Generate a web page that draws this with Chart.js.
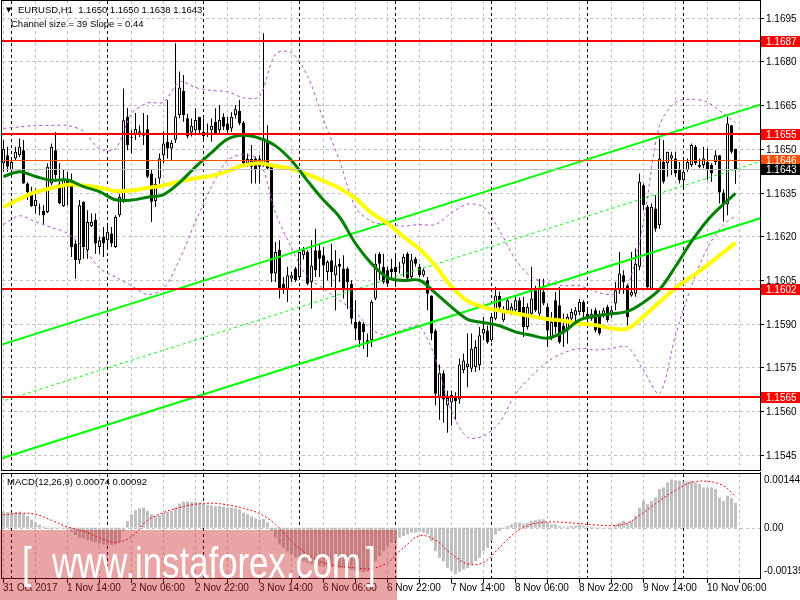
<!DOCTYPE html>
<html>
<head>
<meta charset="utf-8">
<script src="https://cdn.jsdelivr.net/npm/chart.js"></script>
<style>
  html, body { margin: 0; padding: 0; background: #fff; }
  #wrap { position: relative; width: 800px; height: 600px; overflow: hidden; background: #fff; }
  canvas { position: absolute; left: 0; }
  #main { top: 0; }
  #macd { top: 472px; }
</style>
</head>
<body>
<div id="wrap">
  <canvas id="main" width="800" height="472"></canvas>
  <canvas id="macd" width="800" height="128"></canvas>
</div>
<script>
// EURUSD H1 candles, 31 Oct 22:00 .. 10 Nov 13:00
const candleOpen = [
  1.1645, 1.16478, 1.16426, 1.16467, 1.16478, 1.16495, 1.16381, 1.16346, 1.16303, 1.16295,
  1.16287, 1.16283, 1.16381, 1.16495, 1.16381, 1.16303, 1.16392, 1.16381, 1.16175, 1.16118,
  1.16318, 1.16152, 1.16234, 1.16257, 1.16163, 1.16198, 1.16186, 1.16209, 1.16163, 1.16272,
  1.16324, 1.1661, 1.16536, 1.16547, 1.16555, 1.16545, 1.16567, 1.16415, 1.1632, 1.16398,
  1.16478, 1.16524, 1.16501, 1.16531, 1.16616, 1.16698, 1.16605, 1.16556, 1.16564, 1.16609,
  1.16558, 1.16552, 1.16564, 1.16593, 1.16564, 1.1661, 1.16587, 1.1657, 1.16616, 1.1663,
  1.1659, 1.1645, 1.16465, 1.16467, 1.16467, 1.16444, 1.16524, 1.16444, 1.16072, 1.16154,
  1.16037, 1.1602, 1.16055, 1.16089, 1.1606, 1.16135, 1.16146, 1.16043, 1.16152, 1.16152,
  1.16135, 1.16077, 1.16118, 1.16066, 1.16106, 1.16089, 1.16089, 1.16037, 1.15906, 1.15906,
  1.159, 1.15843, 1.15843, 1.15986, 1.1614, 1.16095, 1.16083, 1.16089, 1.16095, 1.16095,
  1.16106, 1.1614, 1.1606, 1.16123, 1.16095, 1.16066, 1.16049, 1.15997, 1.15877, 1.1565,
  1.1573, 1.1562, 1.1563, 1.1565, 1.1564, 1.1574, 1.15751, 1.15745, 1.15751, 1.15757,
  1.15866, 1.15877, 1.15843, 1.15917, 1.15995, 1.15912, 1.15946, 1.15934, 1.15946, 1.1598,
  1.15957, 1.15889, 1.15934, 1.16015, 1.15934, 1.16009, 1.15957, 1.15854, 1.1598, 1.15963,
  1.15894, 1.15877, 1.15917, 1.15929, 1.1594, 1.15975, 1.15934, 1.15917, 1.15946, 1.15934,
  1.15929, 1.15957, 1.15929, 1.15969, 1.16015, 1.16066, 1.16032, 1.15997, 1.16003, 1.16095,
  1.16375, 1.16301, 1.1602, 1.16295, 1.16238, 1.16455, 1.1645, 1.16467, 1.16467, 1.16427,
  1.16393, 1.16427, 1.16444, 1.16507, 1.16438, 1.16444, 1.16455, 1.16444, 1.16455, 1.16478,
  1.1635, 1.1631, 1.16581, 1.165
];
const candleHigh = [
  1.1653, 1.16507, 1.16467, 1.16507, 1.16535, 1.1653, 1.16385, 1.1637, 1.16364, 1.16312,
  1.16306, 1.1645, 1.16518, 1.16558, 1.1645, 1.16427, 1.1642, 1.16415, 1.16186, 1.16324,
  1.1632, 1.16289, 1.16278, 1.16278, 1.16198, 1.16232, 1.16243, 1.16232, 1.16272, 1.16346,
  1.16707, 1.1664, 1.16564, 1.16623, 1.1658, 1.16623, 1.16616, 1.16427, 1.164, 1.16484,
  1.1656, 1.16667, 1.1653, 1.16862, 1.16765, 1.16753, 1.1662, 1.16604, 1.16639, 1.1661,
  1.16604, 1.16587, 1.16604, 1.16639, 1.1665, 1.16622, 1.1661, 1.16625, 1.1665, 1.16667,
  1.16595, 1.16484, 1.16513, 1.16473, 1.16478, 1.16896, 1.16581, 1.1645, 1.1618, 1.16186,
  1.1606, 1.16095, 1.16077, 1.16095, 1.16146, 1.16163, 1.16152, 1.16186, 1.16226, 1.16175,
  1.16163, 1.16118, 1.16175, 1.16152, 1.16123, 1.16135, 1.16095, 1.16049, 1.1598, 1.1591,
  1.15906, 1.15866, 1.1598, 1.1614, 1.16146, 1.1614, 1.16095, 1.16123, 1.1614, 1.16112,
  1.1614, 1.16146, 1.1614, 1.16129, 1.16106, 1.1609, 1.1606, 1.15997, 1.15883, 1.1576,
  1.1574, 1.1567, 1.1567, 1.15665, 1.1578, 1.15797, 1.15866, 1.15866, 1.15843, 1.15889,
  1.15923, 1.15894, 1.15934, 1.16026, 1.1601, 1.1596, 1.1599, 1.1597, 1.15995, 1.1599,
  1.15992, 1.1597, 1.16095, 1.1603, 1.16054, 1.16054, 1.15969, 1.1594, 1.16009, 1.16026,
  1.15934, 1.15934, 1.15952, 1.15957, 1.15985, 1.1598, 1.15952, 1.1595, 1.15955, 1.15945,
  1.15955, 1.15965, 1.1596, 1.16043, 1.16146, 1.16083, 1.16037, 1.16146, 1.16158, 1.16415,
  1.16381, 1.16307, 1.16312, 1.16341, 1.16536, 1.1653, 1.1649, 1.1649, 1.1649, 1.16455,
  1.16461, 1.16467, 1.16518, 1.16513, 1.16467, 1.16507, 1.16501, 1.1645, 1.16495, 1.16478,
  1.1636, 1.1661, 1.16581, 1.165
];
const candleLow = [
  1.1642, 1.16421, 1.16421, 1.16461, 1.16472, 1.1638, 1.16324, 1.163, 1.16278, 1.16272,
  1.16243, 1.1628, 1.16375, 1.16386, 1.1631, 1.163, 1.16306, 1.16129, 1.16054, 1.16106,
  1.16123, 1.16123, 1.16232, 1.1614, 1.1614, 1.16129, 1.16163, 1.16163, 1.1616, 1.16266,
  1.16315, 1.16495, 1.16484, 1.1653, 1.1654, 1.16513, 1.164, 1.16249, 1.163, 1.1638,
  1.1645, 1.16467, 1.1646, 1.1652, 1.16605, 1.16593, 1.16536, 1.16542, 1.16553, 1.1655,
  1.16524, 1.1654, 1.16524, 1.16548, 1.16553, 1.16564, 1.16553, 1.16558, 1.16604, 1.16581,
  1.16444, 1.16438, 1.16381, 1.16381, 1.16381, 1.16438, 1.16427, 1.16043, 1.16043, 1.15986,
  1.16003, 1.15974, 1.16043, 1.16043, 1.16055, 1.1612, 1.16032, 1.15952, 1.1606, 1.1606,
  1.16014, 1.16049, 1.16026, 1.15946, 1.16043, 1.15986, 1.1595, 1.159, 1.15843, 1.1582,
  1.15814, 1.15786, 1.1582, 1.1598, 1.16049, 1.16037, 1.16026, 1.16055, 1.16026, 1.16072,
  1.1606, 1.16049, 1.16049, 1.16095, 1.1606, 1.1606, 1.15946, 1.15843, 1.1562, 1.1557,
  1.1556, 1.15526, 1.1555, 1.1557, 1.15625, 1.1573, 1.15682, 1.15734, 1.15734, 1.1574,
  1.15843, 1.15831, 1.15837, 1.15912, 1.1594, 1.15906, 1.1594, 1.1593, 1.1594, 1.1593,
  1.15854, 1.1588, 1.15929, 1.1594, 1.15923, 1.15963, 1.1582, 1.15843, 1.15866, 1.15831,
  1.1582, 1.15831, 1.1589, 1.15906, 1.1593, 1.15923, 1.15906, 1.1591, 1.1587, 1.1586,
  1.1592, 1.15905, 1.1592, 1.15946, 1.16003, 1.16003, 1.15894, 1.15992, 1.15992, 1.16083,
  1.16289, 1.16015, 1.16015, 1.16215, 1.16226, 1.16381, 1.16404, 1.1641, 1.16404, 1.16381,
  1.16364, 1.16421, 1.16438, 1.16444, 1.16433, 1.16433, 1.16393, 1.16387, 1.16444, 1.16312,
  1.1625, 1.16272, 1.16484, 1.1638
];
const candleClose = [
  1.165, 1.16438, 1.16455, 1.1649, 1.16507, 1.16381, 1.16352, 1.16303, 1.16324, 1.16297,
  1.16272, 1.16438, 1.16507, 1.1641, 1.16312, 1.16398, 1.16369, 1.16163, 1.16118, 1.16306,
  1.16163, 1.16249, 1.16249, 1.16175, 1.16186, 1.16175, 1.16215, 1.16175, 1.16266, 1.16335,
  1.16598, 1.16513, 1.16538, 1.16568, 1.1656, 1.16556, 1.16404, 1.16318, 1.1638, 1.16467,
  1.16518, 1.16501, 1.1652, 1.16611, 1.1671, 1.16616, 1.16542, 1.16579, 1.16599, 1.16564,
  1.16544, 1.16556, 1.16579, 1.16553, 1.16599, 1.16576, 1.16564, 1.1661, 1.16636, 1.16587,
  1.1645, 1.16465, 1.16438, 1.16427, 1.16438, 1.16536, 1.16432, 1.16072, 1.16146, 1.1602,
  1.1602, 1.16066, 1.16066, 1.16049, 1.16146, 1.16152, 1.16037, 1.161, 1.16083, 1.16123,
  1.161, 1.16112, 1.16077, 1.161, 1.16095, 1.16014, 1.16043, 1.15917, 1.15883, 1.15843,
  1.15871, 1.15831, 1.15974, 1.16106, 1.16106, 1.16043, 1.16037, 1.16077, 1.16077, 1.16093,
  1.16129, 1.16055, 1.16118, 1.16106, 1.16066, 1.16083, 1.16003, 1.15866, 1.1566, 1.1573,
  1.1564, 1.15645, 1.15655, 1.15635, 1.1576, 1.15774, 1.15763, 1.15814, 1.1582, 1.1586,
  1.15883, 1.15837, 1.15923, 1.15997, 1.15957, 1.15946, 1.1598, 1.15957, 1.1598, 1.1594,
  1.15889, 1.15957, 1.15986, 1.15946, 1.1602, 1.15969, 1.15877, 1.15906, 1.15889, 1.15837,
  1.15866, 1.15923, 1.1594, 1.15946, 1.15975, 1.1594, 1.15923, 1.15934, 1.15877, 1.15866,
  1.15946, 1.15912, 1.15946, 1.16015, 1.16072, 1.16043, 1.15923, 1.16009, 1.16106, 1.16387,
  1.16307, 1.16026, 1.16301, 1.16226, 1.16467, 1.16387, 1.1649, 1.16478, 1.16415, 1.16393,
  1.16421, 1.16455, 1.16513, 1.1645, 1.16444, 1.16467, 1.16427, 1.16415, 1.16478, 1.1635,
  1.1631, 1.16587, 1.1649, 1.1643
];

// indicator lines read every 4th bar (plus the last bar)
const sampleBars = [0, 4, 8, 12, 16, 20, 24, 28, 32, 36, 40, 44, 48, 52, 56, 60, 64, 68, 72, 76,
  80, 84, 88, 92, 96, 100, 104, 108, 112, 116, 120, 124, 128, 132, 136, 140, 144, 148, 152, 156,
  160, 164, 168, 172, 176, 180, 183];
const maGreen = [1.16405, 1.16421, 1.16405, 1.16392, 1.16393, 1.1637, 1.16353, 1.16325, 1.16324, 1.16334,
  1.16343, 1.16384, 1.16438, 1.16487, 1.16533, 1.16546, 1.16536, 1.1651, 1.1646, 1.1639,
  1.16324, 1.16266, 1.16175, 1.16106, 1.16058, 1.16048, 1.16049, 1.16005, 1.15957, 1.15915,
  1.15904, 1.15893, 1.15872, 1.1586, 1.1585, 1.15872, 1.15912, 1.15926, 1.15934, 1.15942,
  1.15973, 1.16017, 1.16096, 1.16182, 1.16255, 1.1631, 1.16347];
const maYellow = [1.163, 1.16328, 1.16352, 1.16365, 1.16377, 1.16374, 1.16367, 1.16355, 1.16357, 1.16366,
  1.16374, 1.16388, 1.16399, 1.16407, 1.16423, 1.16443, 1.1645, 1.16441, 1.16431, 1.16412,
  1.1639, 1.16365, 1.1633, 1.1628, 1.16245, 1.16198, 1.16156, 1.16098, 1.16027, 1.15978,
  1.15957, 1.15945, 1.15936, 1.15925, 1.15916, 1.1591, 1.159, 1.15895, 1.15884, 1.15883,
  1.15925, 1.15974, 1.16022, 1.16061, 1.16101, 1.16145, 1.16177];
const bandUpper = [1.1657, 1.16575, 1.1658, 1.1658, 1.1658, 1.1656, 1.165, 1.165, 1.1662, 1.16657,
  1.1666, 1.1673, 1.1671, 1.167, 1.16696, 1.16675, 1.1668, 1.16825, 1.1683, 1.1675,
  1.166, 1.1646, 1.163, 1.1625, 1.1624, 1.16235, 1.1624, 1.1624, 1.1628, 1.1631,
  1.163, 1.1622, 1.1612, 1.1606, 1.1604, 1.1603, 1.1603, 1.1601, 1.16, 1.1603,
  1.1625, 1.1658, 1.1666, 1.1667, 1.1666, 1.1662, 1.1659];
const bandLower = [1.1624, 1.1627, 1.1625, 1.1623, 1.1621, 1.1616, 1.1609, 1.1606, 1.1603, 1.16,
  1.1602, 1.1612, 1.1625, 1.1637, 1.1646, 1.1648, 1.1646, 1.1628, 1.1616, 1.1606,
  1.1602, 1.1598, 1.1594, 1.1588, 1.1586, 1.1588, 1.1589, 1.1578, 1.156, 1.1551,
  1.15515, 1.1556, 1.1566, 1.1572, 1.1577, 1.158, 1.15815, 1.1581, 1.15815, 1.1582,
  1.1574, 1.1566, 1.1586, 1.1603, 1.1616, 1.1624, 1.1627];

// regression channel: size 39 pips, slope 0.44
const channelBars = [-1, 190];
const channelMid = [1.15631, 1.1646];
const channelHalf = 0.00195;

// horizontal levels
const levels = [1.1687, 1.1655, 1.1602, 1.1565];
const levelLabels = ['1.1687', '1.1655', '1.1602', '1.1565'];
const markLevel = 1.1646;
const bidLevel = 1.1643;

const priceTicks = [1.1695, 1.1680, 1.1665, 1.1650, 1.1635, 1.1620, 1.1605, 1.1590, 1.1575, 1.1560, 1.1545];
const priceTickLabels = ['1.1695', '1.1680', '1.1665', '1.1650', '1.1635', '1.1620', '1.1605', '1.1590', '1.1575', '1.1560', '1.1545'];

// MACD(12,26,9)
const macdMain = [
  0.00048, 0.00047, 0.00045, 0.00046, 0.00048, 0.00042, 0.00035, 0.00024, 0.00016, 0.00009,
  0.00003, -0.00004, -0.00006, -0.00002, 0.00001, -0.00003, -0.00005, -0.00012, -0.00022, -0.0003,
  -0.00032, -0.00037, -0.0004, -0.00044, -0.00047, -0.0005, -0.00052, -0.00052, -0.0005, -0.00042,
  -0.0001, 0.0002, 0.0004, 0.00052, 0.00058, 0.0006, 0.0005, 0.0004, 0.00035, 0.00038,
  0.00043, 0.00047, 0.0005, 0.0006, 0.00072, 0.00078, 0.00078, 0.00076, 0.00076, 0.00074,
  0.0007, 0.00068, 0.00066, 0.00064, 0.00064, 0.00062, 0.0006, 0.0006, 0.00058, 0.00055,
  0.00045, 0.0004, 0.00034, 0.00028, 0.00024, 0.00026, 0.00016, -0.0001, -0.0003, -0.0005,
  -0.0006, -0.0007, -0.0008, -0.00088, -0.00094, -0.001, -0.00104, -0.00108, -0.00112, -0.00115,
  -0.00116, -0.00117, -0.00118, -0.00118, -0.0012, -0.0012, -0.00122, -0.00125, -0.00128, -0.0013,
  -0.00132, -0.0013, -0.0012, -0.001, -0.00085, -0.0007, -0.00055, -0.00045, -0.0004, -0.0003,
  -0.00025, -0.0002, -0.00015, -0.00015, -0.00012, -0.00015, -0.0002, -0.0004, -0.0007, -0.0009,
  -0.001, -0.0012, -0.00128, -0.00139, -0.00132, -0.00125, -0.0012, -0.0011, -0.001, -0.0009,
  -0.0007, -0.0006, -0.0004, -0.0002, -0.0001, -0.00003, 0.00005, 0.0001, 0.00015, 0.00015,
  0.00012, 0.00015, 0.0002, 0.00022, 0.00025, 0.00025, 0.00015, 0.0001, 0.0001, 0.00005,
  0.00002, 0.00003, 0.00005, 0.00006, 0.00008, 0.00006, 0.00004, 0.00003, 0.00001, -0.00002,
  0, -0.00001, 0.00001, 0.00008, 0.00015, 0.0002, 0.00015, 0.0002, 0.00035, 0.0006,
  0.0008, 0.0007, 0.0008, 0.0009, 0.00115, 0.0012, 0.00135, 0.00144, 0.0014, 0.0014,
  0.00138, 0.00138, 0.0014, 0.00135, 0.0013, 0.0012, 0.00118, 0.0012, 0.00115, 0.0009,
  0.0008, 0.00095, 0.00088, 0.00074
];
const macdSignal = [0.00038, 0.00043, 0.0004, 0.00022, 0.00002, -0.0001, -0.0003, -0.00044, -0.00027, 0.00022,
  0.00045, 0.0006, 0.0007, 0.00073, 0.00068, 0.00058, 0.00042, 0.0001, -0.0004, -0.0008,
  -0.00105, -0.00115, -0.0012, -0.00122, -0.00104, -0.0006, -0.00024, -0.00037, -0.00079, -0.00108,
  -0.00104, -0.00059, -0.00014, 0.0001, 0.00017, 0.00016, 0.00012, 0.00008, 0.00006, 0.00014,
  0.00045, 0.0008, 0.00112, 0.00135, 0.00138, 0.00125, 0.00092];
const macdTicks = [0.00144, 0, -0.00139];
const macdTickLabels = ['0.00144', '0.00', '-0.00139'];

// time axis
const gridBars = [0, 8, 16, 24, 32, 40, 48, 56, 64, 72, 80, 88, 96, 104, 112, 120, 128, 136, 144, 152, 160, 168, 176, 184];
const daySepBars = [2, 26, 50, 74, 98, 122, 146, 170];
const timeLabelBars = [0, 16, 32, 48, 64, 80, 96, 112, 128, 144, 160, 176];
const timeLabels = ['31 Oct 2017', '1 Nov 14:00', '2 Nov 06:00', '2 Nov 22:00', '3 Nov 14:00', '6 Nov 06:00',
  '6 Nov 22:00', '7 Nov 14:00', '8 Nov 06:00', '8 Nov 22:00', '9 Nov 14:00', '10 Nov 06:00'];

const FONT = '10px "Liberation Sans", Arial, sans-serif';
const X_MIN = -0.375, X_MAX = 189.125;

const bars = candleOpen.map((v, i) => i);
const sampled = arr => sampleBars.map((b, k) => ({ x: b, y: arr[k] }));

function vline(ctx, px, top, bottom, color) {
  ctx.strokeStyle = color;
  ctx.beginPath();
  ctx.moveTo(px, top);
  ctx.lineTo(px, bottom);
  ctx.stroke();
}

function drawTimeGrid(chart) {
  const { ctx, chartArea: a, scales: { x } } = chart;
  ctx.save();
  ctx.lineWidth = 1;
  ctx.setLineDash([3, 3]);
  gridBars.forEach(b => vline(ctx, Math.floor(x.getPixelForValue(b)) + 0.5, a.top, a.bottom, '#c0c0c0'));
  daySepBars.forEach(b => vline(ctx, Math.floor(x.getPixelForValue(b)) + 0.5, a.top, a.bottom, '#000000'));
  ctx.restore();
}

const mainDecor = {
  id: 'mainDecor',
  beforeDatasetsDraw(chart) {
    const { ctx, chartArea: a, scales: { y } } = chart;
    ctx.save();
    ctx.lineWidth = 1;
    ctx.setLineDash([3, 3]);
    ctx.strokeStyle = '#c0c0c0';
    priceTicks.forEach(t => {
      const py = Math.round(y.getPixelForValue(t)) + 0.5;
      ctx.beginPath();
      ctx.moveTo(a.left, py);
      ctx.lineTo(a.right, py);
      ctx.stroke();
    });
    ctx.restore();
    drawTimeGrid(chart);
  },
  afterDatasetsDraw(chart) {
    const { ctx, chartArea: a, scales: { y } } = chart;
    ctx.save();
    // thin lines: marker and bid
    ctx.lineWidth = 1;
    ctx.strokeStyle = '#ff4f00';
    let py = Math.round(y.getPixelForValue(markLevel)) + 0.5;
    ctx.beginPath(); ctx.moveTo(a.left, py); ctx.lineTo(a.right, py); ctx.stroke();
    ctx.strokeStyle = '#c0c0c0';
    py = Math.round(y.getPixelForValue(bidLevel)) + 0.5;
    ctx.beginPath(); ctx.moveTo(a.left, py); ctx.lineTo(a.right, py); ctx.stroke();
    // red levels
    ctx.lineWidth = 2;
    ctx.strokeStyle = '#ff0000';
    levels.forEach(l => {
      const ly = Math.round(y.getPixelForValue(l));
      ctx.beginPath(); ctx.moveTo(a.left, ly); ctx.lineTo(a.right, ly); ctx.stroke();
    });
    // frame
    ctx.lineWidth = 1;
    ctx.strokeStyle = '#000';
    ctx.strokeRect(a.left - 0.5, a.top - 0.5, a.right - a.left + 1, a.bottom - a.top + 1);
    // price axis
    ctx.font = FONT;
    ctx.textBaseline = 'middle';
    ctx.textAlign = 'left';
    ctx.fillStyle = '#000';
    priceTicks.forEach((t, k) => {
      const ty = Math.round(y.getPixelForValue(t)) + 0.5;
      ctx.beginPath(); ctx.moveTo(a.right, ty); ctx.lineTo(a.right + 4, ty); ctx.stroke();
      ctx.fillText(priceTickLabels[k], a.right + 6, ty + 1);
    });
    const box = (val, text, bg) => {
      const by = Math.round(y.getPixelForValue(val));
      ctx.fillStyle = bg;
      ctx.fillRect(a.right + 1, by - 5, 40, 11);
      ctx.fillStyle = '#fff';
      ctx.fillText(text, a.right + 6, by + 1);
    };
    levels.forEach((l, k) => box(l, levelLabels[k], '#ff0000'));
    box(markLevel, markLevel.toFixed(4), '#ff4f00');
    box(bidLevel, bidLevel.toFixed(4), '#000000');
    // header
    ctx.fillStyle = '#000';
    ctx.textBaseline = 'alphabetic';
    ctx.font = '7px "DejaVu Sans", sans-serif';
    ctx.fillText('\u25BC', 6, 12);
    ctx.font = '9.5px "Liberation Sans", Arial, sans-serif';
    const o = candleOpen.length - 1;
    ctx.fillText('EURUSD,H1  ' + [candleOpen[o], candleHigh[o], candleLow[o], candleClose[o]].map(v => v.toFixed(4)).join(' '), 18, 13);
    ctx.fillText('Channel size = 39 Slope = 0.44', 11, 27);
    ctx.restore();
  }
};

new Chart(document.getElementById('main'), {
  type: 'bar',
  data: {
    datasets: [
      { type: 'line', data: sampled(maGreen), borderColor: '#008000', borderWidth: 3, pointRadius: 0, tension: 0.35, order: 1 },
      { type: 'line', data: sampled(maYellow), borderColor: '#ffff00', borderWidth: 4, pointRadius: 0, tension: 0.35, order: 2 },
      { type: 'line', data: channelBars.map((b, k) => ({ x: b, y: channelMid[k] + channelHalf })), borderColor: '#00ff00', borderWidth: 2, pointRadius: 0, order: 3 },
      { type: 'line', data: channelBars.map((b, k) => ({ x: b, y: channelMid[k] - channelHalf })), borderColor: '#00ff00', borderWidth: 2, pointRadius: 0, order: 3 },
      { type: 'line', data: channelBars.map((b, k) => ({ x: b, y: channelMid[k] })), borderColor: '#00ff00', borderWidth: 1, borderDash: [3, 3], pointRadius: 0, order: 3 },
      { type: 'line', data: sampled(bandUpper), borderColor: '#b44fd8', borderWidth: 1, borderDash: [3, 3], pointRadius: 0, tension: 0.3, order: 4 },
      { type: 'line', data: sampled(bandLower), borderColor: '#b44fd8', borderWidth: 1, borderDash: [3, 3], pointRadius: 0, tension: 0.3, order: 4 },
      {
        data: bars.map(i => ({ x: i, y: [candleOpen[i], candleClose[i]] })),
        backgroundColor: bars.map(i => candleClose[i] >= candleOpen[i] ? '#ffffff' : '#000000'),
        borderColor: '#000000', borderWidth: 1, borderSkipped: false, inflateAmount: 0,
        barThickness: 3, minBarLength: 1, grouped: false, order: 8
      },
      {
        data: bars.map(i => ({ x: i, y: [candleLow[i], candleHigh[i]] })),
        backgroundColor: '#000000', borderWidth: 0, inflateAmount: 0,
        barThickness: 1, grouped: false, order: 9
      }
    ]
  },
  options: {
    responsive: false, animation: false, devicePixelRatio: 1, events: [],
    layout: { padding: { left: 2, top: 1, right: 40, bottom: 2 } },
    plugins: { legend: { display: false }, tooltip: { enabled: false } },
    scales: {
      x: { type: 'linear', min: X_MIN, max: X_MAX, offset: false, display: false },
      y: { type: 'linear', min: 1.15398, max: 1.17007, beginAtZero: false, display: false }
    }
  },
  plugins: [mainDecor]
});

const macdDecor = {
  id: 'macdDecor',
  beforeDatasetsDraw(chart) {
    const { ctx, chartArea: a, scales: { y } } = chart;
    drawTimeGrid(chart);
    ctx.save();
    ctx.lineWidth = 1;
    ctx.setLineDash([3, 3]);
    ctx.strokeStyle = '#c0c0c0';
    const zy = Math.round(y.getPixelForValue(0)) + 0.5;
    ctx.beginPath(); ctx.moveTo(a.left, zy); ctx.lineTo(a.right, zy); ctx.stroke();
    ctx.restore();
  },
  afterDatasetsDraw(chart) {
    const { ctx, chartArea: a, scales: { x, y } } = chart;
    ctx.save();
    ctx.lineWidth = 1;
    ctx.strokeStyle = '#000';
    ctx.strokeRect(a.left - 0.5, a.top - 0.5, a.right - a.left + 1, a.bottom - a.top + 1);
    // right axis line between panels
    ctx.beginPath(); ctx.moveTo(a.right + 0.5, 0); ctx.lineTo(a.right + 0.5, a.top); ctx.stroke();
    ctx.font = FONT;
    ctx.fillStyle = '#000';
    ctx.textBaseline = 'middle';
    macdTicks.forEach((t, k) => {
      let ty = y.getPixelForValue(t);
      if (k === macdTicks.length - 1) ty -= 4;
      ctx.fillText(macdTickLabels[k], a.right + 4, ty + 1);
    });
    ctx.textBaseline = 'alphabetic';
    ctx.font = '9.5px "Liberation Sans", Arial, sans-serif';
    const n = macdMain.length - 1;
    ctx.fillText('MACD(12,26,9) ' + macdMain[n].toFixed(5) + ' ' + macdSignal[macdSignal.length - 1].toFixed(5), 7, 13);
    // time axis
    ctx.font = FONT;
    gridBars.forEach(b => {
      const px = Math.floor(x.getPixelForValue(b)) + 0.5;
      if (px > a.right) return;
      ctx.beginPath(); ctx.moveTo(px, a.bottom + 1); ctx.lineTo(px, a.bottom + 5); ctx.stroke();
    });
    ctx.textBaseline = 'middle';
    timeLabelBars.forEach((b, k) => {
      ctx.fillText(timeLabels[k], Math.floor(x.getPixelForValue(b)), a.bottom + 10);
    });
    ctx.restore();
  },
  afterDraw(chart) {
    const { ctx } = chart;
    ctx.save();
    ctx.fillStyle = 'rgba(200, 30, 30, 0.4)';
    ctx.fillRect(0, 58, 397, 70);
    ctx.fillStyle = '#ffffff';
    ctx.font = '44px "Liberation Sans", Arial, sans-serif';
    ctx.textBaseline = 'alphabetic';
    const word = (txt, px, sx) => {
      ctx.save();
      ctx.translate(px, 106);
      ctx.scale(sx, 1);
      ctx.fillText(txt, 0, 0);
      ctx.restore();
    };
    word('[', 22, 0.8);
    word('www.instaforex.com', 52, 0.79);
    word(']', 366, 0.8);
    ctx.restore();
  }
};

new Chart(document.getElementById('macd'), {
  type: 'bar',
  data: {
    datasets: [
      { type: 'line', data: sampled(macdSignal), borderColor: '#ff0000', borderWidth: 1, borderDash: [2, 2], pointRadius: 0, tension: 0.35, order: 1 },
      { data: bars.map(i => ({ x: i, y: macdMain[i] })), backgroundColor: '#c0c0c0', borderWidth: 0, inflateAmount: 0, barThickness: 3, grouped: false, order: 5 }
    ]
  },
  options: {
    responsive: false, animation: false, devicePixelRatio: 1, events: [],
    layout: { padding: { left: 2, top: 2, right: 40, bottom: 22 } },
    plugins: { legend: { display: false }, tooltip: { enabled: false } },
    scales: {
      x: { type: 'linear', min: X_MIN, max: X_MAX, offset: false, display: false },
      y: { type: 'linear', min: -0.0015, max: 0.0016, beginAtZero: false, display: false }
    }
  },
  plugins: [macdDecor]
});
</script>
</body>
</html>
